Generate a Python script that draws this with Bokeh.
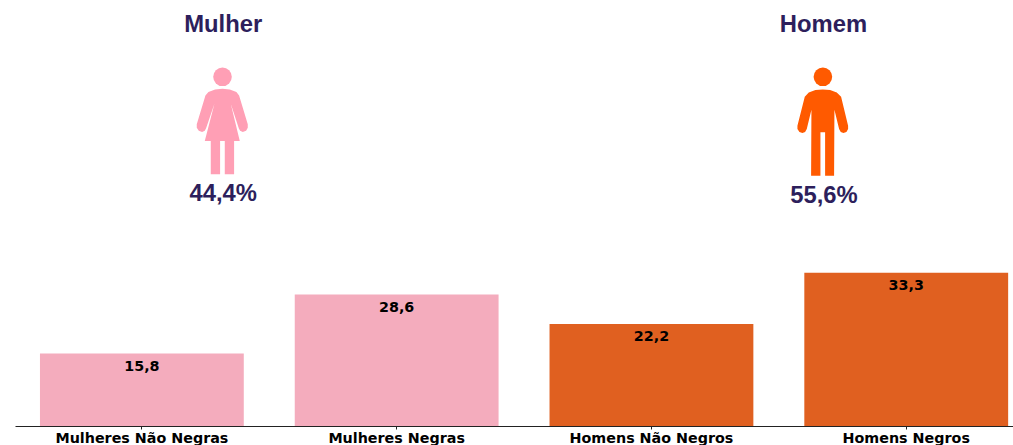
from bokeh.plotting import figure
from bokeh.models import Range1d, FixedTicker, LinearAxis
from bokeh.core.properties import value
from bokeh.embed import file_html
from bokeh.resources import INLINE

categories = ["Mulheres Não Negras", "Mulheres Negras", "Homens Não Negros", "Homens Negros"]
values = [15.8, 28.6, 22.2, 33.3]
labels = ["15,8", "28,6", "22,2", "33,3"]
bar_colors = ["#f4acbd", "#f4acbd", "#e06020", "#e06020"]

gender_titles = ["Mulher", "Homem"]
gender_shares = ["44,4%", "55,6%"]
INK = "#2d1f5c"
WOMAN = "#ff9fb5"
MAN = "#ff5a00"

# icon outlines, in pixels of a 3x crop of the page (origin given per icon)
woman_outline = [(157,265),(135,267),(115,275),(106,285),(80,372),(80,382),(86,391),(96,395),(104,391),(108,384),
                 (133,310),(104,422),(122,422),(122,522),(150,522),(150,422),(164,422),(164,522),(192,522),(192,422),
                 (209,422),(182,310),(206,384),(210,391),(218,395),(228,391),(233,382),(233,372),(207,285),(199,275),(179,267)]
man_outline = [(158,267),(136,269),(116,276),(104,289),(82,376),(82,386),(88,395),(97,398),(105,395),(110,386),
               (124,328),(123,526),(151,526),(151,396),(165,396),(165,526),(192,526),(193,328),(207,386),(212,395),
               (220,398),(229,395),(234,386),(234,376),(213,289),(200,276),(180,269)]

p = figure(width=1013, height=445, frame_width=998, frame_height=418, output_backend="svg", toolbar_location=None,
           x_range=Range1d(-0.496, 3.421), y_range=Range1d(0, 90.5),
           min_border_left=15, min_border_right=0, min_border_top=8, min_border_bottom=18,
           x_axis_location=None, y_axis_location=None, outline_line_color=None, background_fill_color="white")
p.grid.visible = False

xs = list(range(len(categories)))
p.vbar(x=xs, top=values, width=0.8, bottom=0, fill_color=bar_colors, line_color=None)
p.text(x=xs, y=values, text=labels, text_align="center", text_baseline="top", y_offset=7.5,
       text_font=value("DejaVu Sans"), text_font_style="bold", text_font_size="14.3px", text_color="black")

axis = LinearAxis(ticker=FixedTicker(ticks=xs), major_label_overrides={i: c for i, c in enumerate(categories)})
axis.axis_line_color = "#222222"
axis.axis_line_width = 1
axis.major_tick_line_color = "#222222"
axis.major_tick_in = 0
axis.major_tick_out = 3
axis.minor_tick_line_color = None
axis.major_label_standoff = 0
axis.major_label_text_font = "DejaVu Sans"
axis.major_label_text_font_style = "bold"
axis.major_label_text_font_size = "14.3px"
axis.major_label_text_color = "black"
p.add_layout(axis, "below")

# page-pixel overlay for the pictograms and headings
p.extra_x_ranges = {"px": Range1d(15, 1013)}
p.extra_y_ranges = {"py": Range1d(426.5, 8)}
kw = dict(x_range_name="px", y_range_name="py")

def place(outline, ox):
    return [x / 3 + ox for x, _ in outline], [y / 3 for _, y in outline]

wx, wy = place(woman_outline, 169.6)
mx, my = place(man_outline, 769.6)
p.patch(wx, wy, fill_color=WOMAN, line_color=None, **kw)
p.patch(mx, my, fill_color=MAN, line_color=None, **kw)
p.scatter([222], [76.4], size=18.6, marker="circle", fill_color=WOMAN, line_color=None, **kw)
p.scatter([822.4], [76.4], size=18.6, marker="circle", fill_color=MAN, line_color=None, **kw)

p.text([222.7, 823], [23.5, 23.5], text=gender_titles, text_align="center", text_baseline="middle",
       text_font=value("Liberation Sans"), text_font_style="bold", text_font_size="23.8px", text_color=INK, **kw)
p.text([222.7, 823.5], [192, 194], text=gender_shares, text_align="center", text_baseline="middle",
       text_font=value("Liberation Sans"), text_font_style="bold", text_font_size="23.8px", text_color=INK, **kw)

open("out.html", "w").write(file_html(p, INLINE))
